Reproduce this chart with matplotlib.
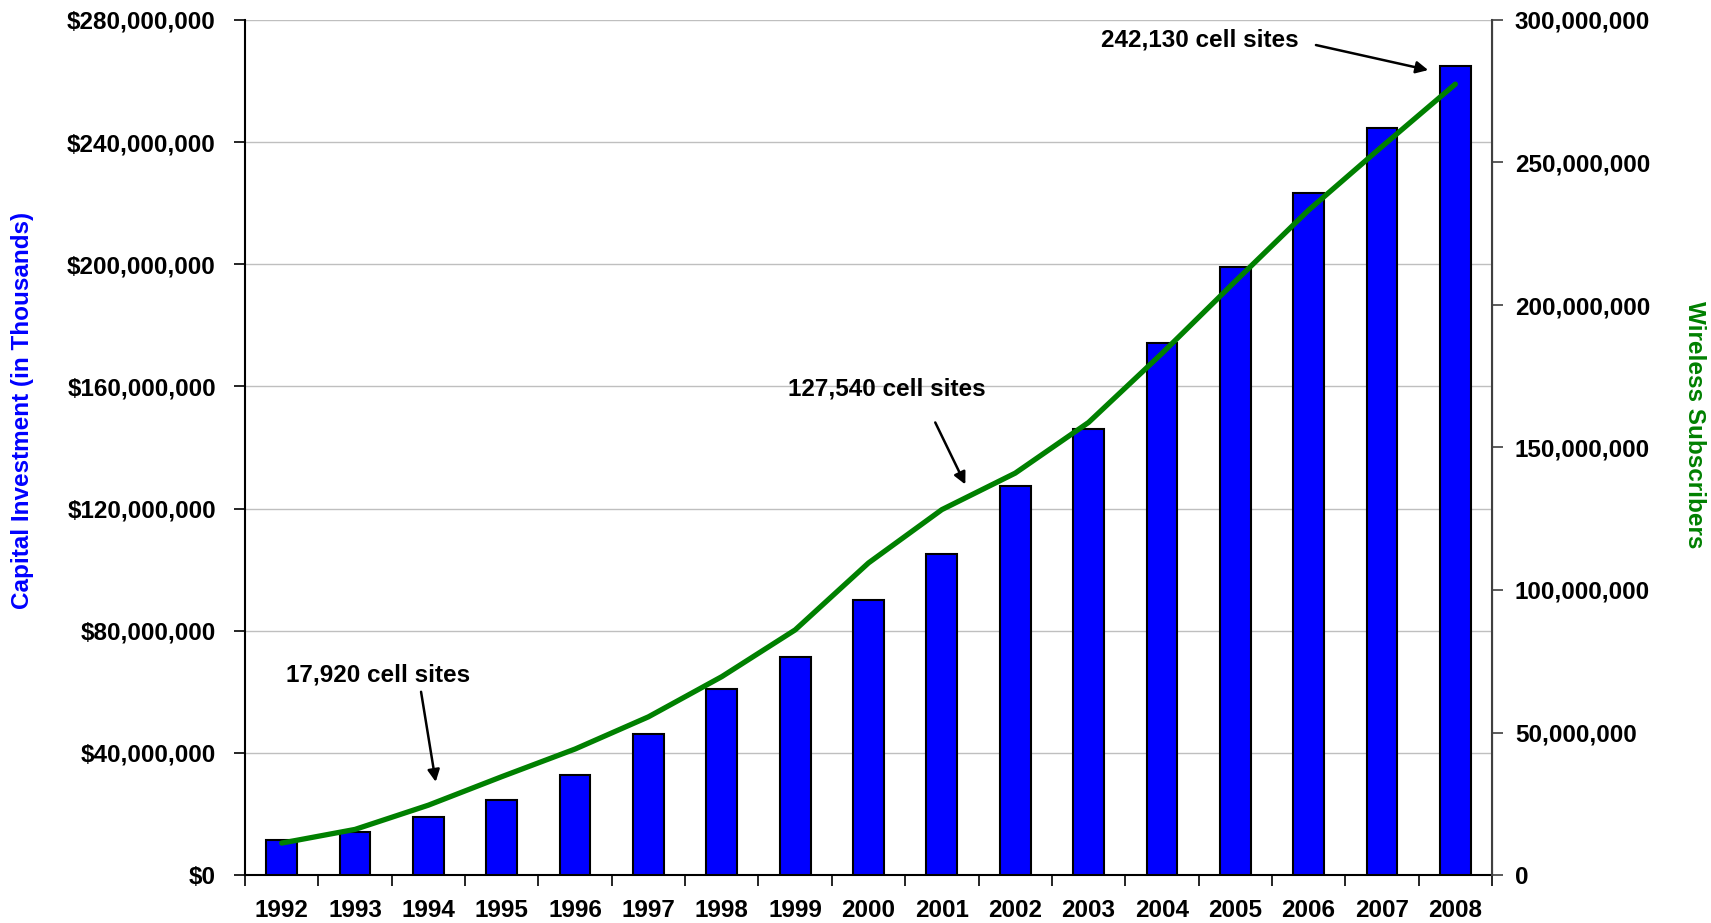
import matplotlib; matplotlib.use("Agg")
import matplotlib.pyplot as plt
from matplotlib.ticker import FuncFormatter, MultipleLocator, FixedLocator

plt.rcParams['font.family'] = ['Liberation Sans', 'DejaVu Sans']
plt.rcParams['font.weight'] = 'bold'

years = ["1992", "1993", "1994", "1995", "1996", "1997", "1998", "1999", "2000",
         "2001", "2002", "2003", "2004", "2005", "2006", "2007", "2008"]
# cumulative capital investment (in thousands of dollars)
capital = [11.5e6, 14.0e6, 18.9e6, 24.5e6, 32.7e6, 46.3e6, 60.8e6, 71.3e6, 90.0e6,
           105.0e6, 127.5e6, 146.2e6, 174.1e6, 199.0e6, 223.4e6, 244.6e6, 265.0e6]
subscribers = [11.2e6, 16.0e6, 24.5e6, 34.5e6, 44.2e6, 55.5e6, 69.6e6, 86.0e6, 109.5e6,
               128.2e6, 141.0e6, 158.8e6, 183.0e6, 208.3e6, 233.3e6, 255.6e6, 277.5e6]

# cell-site callouts: label, text position (category, $), arrow tail, arrow head
callouts = [
    ("17,920 cell sites", (1.31, 65.6e6), (1.90, 60.0e6), (2.10, 30.5e6)),
    ("127,540 cell sites", (8.25, 159.0e6), (8.91, 148.2e6), (9.32, 127.9e6)),
    ("242,130 cell sites", (12.51, 273.4e6), (14.10, 271.8e6), (15.63, 263.6e6)),
]

FS = 17.5
fig = plt.figure(figsize=(17.11, 9.23), dpi=100)
ax = fig.add_axes([245/1711, 48/923, 1247/1711, 855/923])
ax2 = ax.twinx()

x = range(len(years))
ax.bar(x, capital, width=0.42, color="#0000FF", edgecolor="black", lw=1.5, zorder=3)
ax2.plot(x, subscribers, color="#008000", lw=3.8, solid_capstyle="round", zorder=4)

ax.set_xlim(-0.5, len(years) - 0.5)
ax.set_ylim(0, 280e6)
ax2.set_ylim(0, 300e6)

ax.yaxis.set_major_locator(MultipleLocator(40e6))
ax.yaxis.set_major_formatter(FuncFormatter(lambda v, p: "${:,.0f}".format(v)))
ax2.yaxis.set_major_locator(MultipleLocator(50e6))
ax2.yaxis.set_major_formatter(FuncFormatter(lambda v, p: "{:,.0f}".format(v)))

ax.set_xticks(list(x))
ax.set_xticklabels(years)
ax.xaxis.set_minor_locator(FixedLocator([i - 0.5 for i in range(len(years) + 1)]))
ax.tick_params(axis="x", which="major", length=0, pad=17, labelsize=FS)
ax.tick_params(axis="x", which="minor", length=8, width=1.2, direction="out")
ax.tick_params(axis="y", length=8, width=1.2, pad=13, labelsize=FS)
ax2.tick_params(axis="y", length=8, width=1.2, pad=8.5, labelsize=FS, color="#404040")

ax.grid(axis="y", color="#BFBFBF", lw=1, zorder=0)
ax.set_axisbelow(True)
for a in (ax, ax2):
    a.spines["top"].set_visible(False)
ax.spines["left"].set_linewidth(1.5)
ax.spines["bottom"].set_linewidth(1.5)
ax2.spines["left"].set_visible(False)
ax2.spines["bottom"].set_visible(False)
ax2.spines["right"].set_color("#404040")
ax2.spines["right"].set_linewidth(1.5)

for label, txt, tail, head in callouts:
    ax2.annotate("", xy=head, xytext=tail, xycoords=ax.transData, textcoords=ax.transData,
                 arrowprops=dict(arrowstyle="-|>", color="black", lw=1.8, mutation_scale=18,
                                 shrinkA=0, shrinkB=0), zorder=6)
    ax2.text(txt[0], txt[1], label, transform=ax.transData, ha="center", va="center",
             fontsize=FS, fontweight="bold", zorder=6)

fig.text(23/1711, 1 - 410/923, "Capital Investment (in Thousands)", color="#0000FF",
         rotation=90, ha="center", va="center", fontsize=FS, fontweight="bold")
fig.text(1695/1711, 1 - 425/923, "Wireless Subscribers", color="#008000",
         rotation=-90, ha="center", va="center", fontsize=FS, fontweight="bold")

fig.savefig("out.png", dpi=100)
